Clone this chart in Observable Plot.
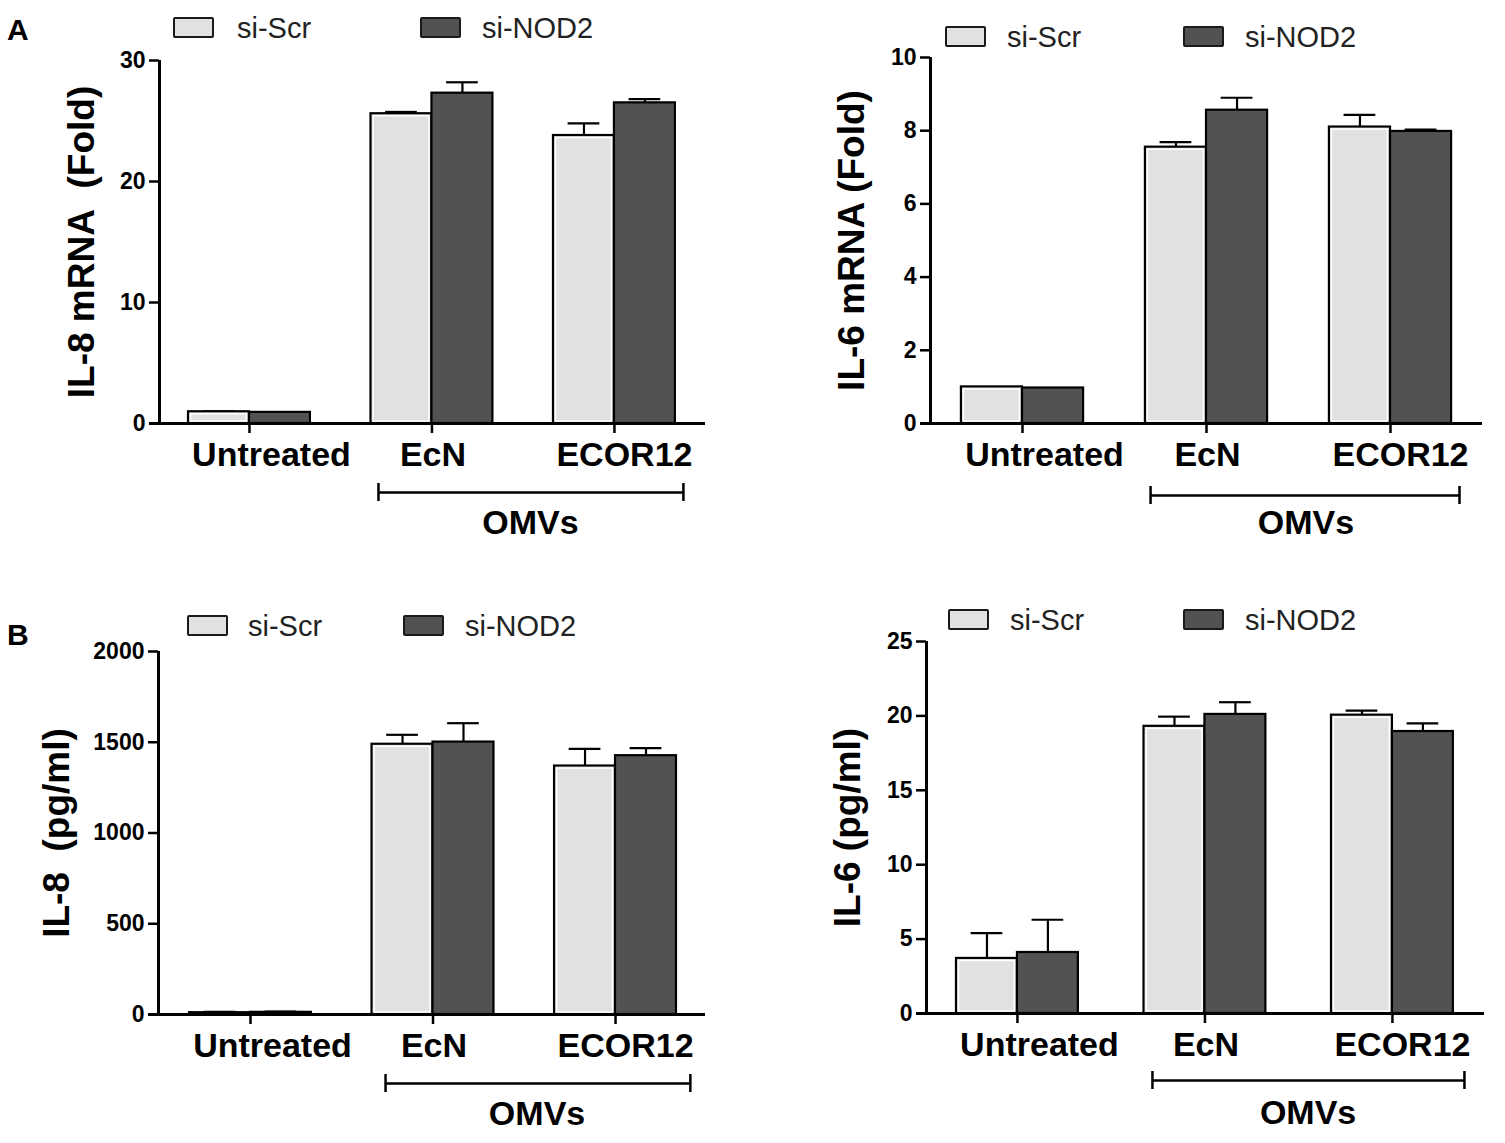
<!DOCTYPE html>
<html><head><meta charset="utf-8">
<script src="https://cdn.jsdelivr.net/npm/d3@7"></script>
<script src="https://cdn.jsdelivr.net/npm/@observablehq/plot@0.6"></script>
<style>
body{margin:0;background:#fff;}
#root{position:relative;width:1505px;height:1143px;overflow:hidden;background:#fff;}
.panel{position:absolute;}
.letter{position:absolute;font:bold 30px "Liberation Sans",Arial,sans-serif;line-height:1;color:#000;}
.sw{position:absolute;width:41px;height:21px;border:2px solid #1a1a1a;border-radius:2px;box-sizing:border-box;}
.lt{position:absolute;font:29px "Liberation Sans",Arial,sans-serif;line-height:1;color:#222;white-space:nowrap;}
</style>
</head><body><div id="root"></div>
<script>
const categories = ["Untreated", "EcN", "ECOR12"];
const seriesNames = ["si-Scr", "si-NOD2"];
const seriesColors = ["#e1e1e1", "#525252"];

// A left: IL-8 mRNA (Fold)
const il8mrnaScr = [0.97, 25.6, 23.8];
const il8mrnaScrErr = [0.03, 0.15, 1.0];
const il8mrnaNod = [0.92, 27.3, 26.5];
const il8mrnaNodErr = [0.03, 0.9, 0.3];
const il8mrnaTicks = [0, 10, 20, 30];

// A right: IL-6 mRNA (Fold)
const il6mrnaScr = [1.0, 7.55, 8.1];
const il6mrnaScrErr = [0.0, 0.14, 0.33];
const il6mrnaNod = [0.97, 8.56, 7.98];
const il6mrnaNodErr = [0.0, 0.34, 0.05];
const il6mrnaTicks = [0, 2, 4, 6, 8, 10];

// B left: IL-8 (pg/ml)
const il8pgScr = [10, 1489, 1369];
const il8pgScrErr = [5, 52, 94];
const il8pgNod = [12, 1501, 1426];
const il8pgNodErr = [4, 104, 42];
const il8pgTicks = [0, 500, 1000, 1500, 2000];

// B right: IL-6 (pg/ml)
const il6pgScr = [3.7, 19.3, 20.05];
const il6pgScrErr = [1.7, 0.65, 0.3];
const il6pgNod = [4.1, 20.1, 18.95];
const il6pgNodErr = [2.2, 0.82, 0.55];
const il6pgTicks = [0, 5, 10, 15, 20, 25];

const FONT = '"Liberation Sans",Arial,sans-serif';
const labelShift = [22, 1, 10];

function panel(cfg) {
  const rows = [];
  categories.forEach((c, i) => {
    rows.push({i, s: 0, v: cfg.scr[i], e: cfg.scrErr[i]});
    rows.push({i, s: 1, v: cfg.nod[i], e: cfg.nodErr[i]});
  });
  const hw = cfg.hw;
  const x1 = d => d.s === 0 ? d.i - hw : d.i;
  const x2 = d => d.s === 0 ? d.i : d.i + hw;
  const xc = d => d.s === 0 ? d.i - hw / 2 : d.i + hw / 2;
  const cap = hw * 0.26;
  const errs = rows.filter(d => d.e > 0);
  const yMax = cfg.ticks[cfg.ticks.length - 1];
  const scrRows = rows.filter(d => d.s === 0);
  const nodRows = rows.filter(d => d.s === 1);
  return Plot.plot({
    width: cfg.width, height: cfg.height,
    marginLeft: cfg.mL, marginRight: cfg.mR, marginTop: cfg.mT, marginBottom: cfg.mB,
    x: {domain: cfg.xDomain, axis: null},
    y: {domain: [0, yMax]},
    style: {fontFamily: FONT, color: "#000", overflow: "visible", background: "transparent"},
    marks: [
      Plot.ruleX(errs, {x: xc, y1: "v", y2: d => d.v + d.e, stroke: "#000", strokeWidth: 2.2}),
      Plot.ruleY(errs, {y: d => d.v + d.e, x1: d => xc(d) - cap, x2: d => xc(d) + cap, stroke: "#000", strokeWidth: 2.2}),
      Plot.rectY(scrRows, {x1, x2, y1: 0, y2: "v", fill: seriesColors[0], stroke: "#000", strokeWidth: 2.2}),
      Plot.rectY(scrRows.filter(d => d.v / yMax > 0.02), {x1, x2, y1: 0, y2: "v", fill: "none", stroke: "#fff", strokeWidth: 1.4, insetLeft: 2.6, insetRight: 2.6, insetTop: 2.6, insetBottom: 2}),
      Plot.rectY(nodRows, {x1, x2, y1: 0, y2: "v", fill: seriesColors[1], stroke: "#000", strokeWidth: 2.2}),
      Plot.ruleY([0], {stroke: "#000", strokeWidth: 3, insetLeft: -10}),
      Plot.ruleX([cfg.xDomain[0]], {y1: 0, y2: yMax, stroke: "#000", strokeWidth: 3}),
      Plot.axisY({ticks: cfg.ticks, tickSize: 10, tickPadding: 4, fontSize: 23, fontWeight: "bold", strokeWidth: 2.5, label: null, tickFormat: d => String(d)}),
      Plot.ruleX([0, 1, 2], {y1: 0, y2: 0, insetBottom: -10, stroke: "#000", strokeWidth: 2.5}),
      ...categories.map((c, i) => Plot.text([c], {x: i, y: 0, dy: 32, dx: labelShift[i], fontSize: 34, fontWeight: "bold", fill: "#000"})),
      Plot.text([cfg.yLabel], {frameAnchor: "left", textAnchor: "middle", rotate: -90, dx: cfg.labelDx, fontSize: 37, fontWeight: "bold", fill: "#000"}),
      Plot.ruleY([0], {x1: cfg.bracket[0], x2: cfg.bracket[1], dy: cfg.bracketDy, stroke: "#000", strokeWidth: 2.5}),
      Plot.ruleX(cfg.bracket, {y1: 0, y2: 0, dy: cfg.bracketDy, insetTop: -9, insetBottom: -9, stroke: "#000", strokeWidth: 2.5}),
      Plot.text(["OMVs"], {x: cfg.omvX, y: 0, dy: 100, fontSize: 34, fontWeight: "bold", fill: "#000"})
    ]
  });
}

const root = document.getElementById("root");
function place(el, left, top) {
  const d = document.createElement("div");
  d.className = "panel";
  d.style.left = left + "px"; d.style.top = top + "px";
  d.appendChild(el);
  root.appendChild(d);
}
function addLegend(sw1, t1, sw2, t2, y) {
  [[sw1, t1, 0], [sw2, t2, 1]].forEach(([sx, tx, s]) => {
    const b = document.createElement("div");
    b.className = "sw"; b.style.left = sx + "px"; b.style.top = y + "px"; b.style.background = seriesColors[s];
    root.appendChild(b);
    const t = document.createElement("div");
    t.className = "lt"; t.style.left = tx + "px"; t.style.top = (y - 3) + "px"; t.textContent = seriesNames[s];
    root.appendChild(t);
  });
}
function addLetter(txt, x, y) {
  const d = document.createElement("div");
  d.className = "letter"; d.style.left = x + "px"; d.style.top = y + "px"; d.textContent = txt;
  root.appendChild(d);
}

place(panel({scr: il8mrnaScr, scrErr: il8mrnaScrErr, nod: il8mrnaNod, nodErr: il8mrnaNodErr, ticks: il8mrnaTicks,
  yLabel: "IL-8 mRNA\u00a0 (Fold)", width: 760, height: 560, mL: 159, mR: 55, mT: 60, mB: 137,
  xDomain: [-0.493, 2.499], hw: 0.334, labelDx: -77, bracket: [0.707, 2.378], bracketDy: 69, omvX: 1.54}), 0, 0);

place(panel({scr: il6mrnaScr, scrErr: il6mrnaScrErr, nod: il6mrnaNod, nodErr: il6mrnaNodErr, ticks: il6mrnaTicks,
  yLabel: "IL-6 mRNA (Fold)", width: 745, height: 560, mL: 170, mR: 23, mT: 57, mB: 137,
  xDomain: [-0.5, 2.5], hw: 0.332, labelDx: -78, bracket: [0.696, 2.375], bracketDy: 72, omvX: 1.54}), 760, 0);

place(panel({scr: il8pgScr, scrErr: il8pgScrErr, nod: il8pgNod, nodErr: il8pgNodErr, ticks: il8pgTicks,
  yLabel: "IL-8\u00a0 (pg/ml)", width: 760, height: 563, mL: 158, mR: 55, mT: 71, mB: 129,
  xDomain: [-0.504, 2.493], hw: 0.334, labelDx: -101, bracket: [0.74, 2.41], bracketDy: 69, omvX: 1.57}), 0, 580);

place(panel({scr: il6pgScr, scrErr: il6pgScrErr, nod: il6pgNod, nodErr: il6pgNodErr, ticks: il6pgTicks,
  yLabel: "IL-6 (pg/ml)", width: 745, height: 563, mL: 166, mR: 21, mT: 61, mB: 130,
  xDomain: [-0.485, 2.491], hw: 0.325, labelDx: -78, bracket: [0.72, 2.384], bracketDy: 67, omvX: 1.55}), 760, 580);

addLegend(173, 237, 420, 482, 17);
addLegend(945, 1007, 1183, 1245, 26);
addLegend(187, 248, 403, 465, 615);
addLegend(948, 1010, 1183, 1245, 609);
addLetter("A", 7, 15);
addLetter("B", 7, 620);
</script>
</body></html>
